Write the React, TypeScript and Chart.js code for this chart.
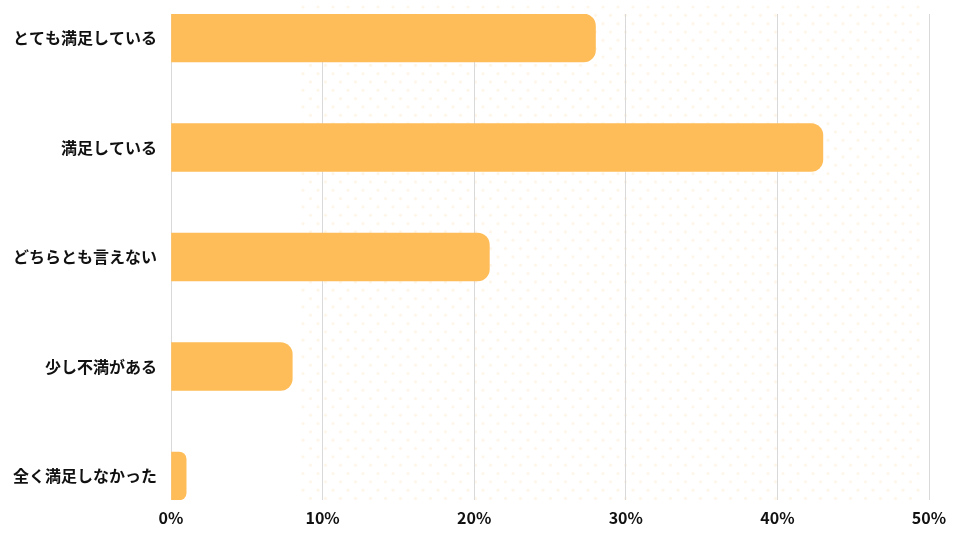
import React, { useEffect, useRef } from "react";
import { Chart, registerables } from "chart.js";

Chart.register(...registerables);

const categories = ["とても満足している", "満足している", "どちらとも言えない", "少し不満がある", "全く満足しなかった"];
const values = [28, 43, 21, 8, 1];
const xTicks = [0, 10, 20, 30, 40, 50];

const FONT = "'Noto Sans CJK JP', 'Noto Sans', sans-serif";

const dotsPlugin = {
  id: "dotsBg",
  beforeDraw(chart: any) {
    const ctx = chart.ctx;
    ctx.save();
    ctx.fillStyle = "rgba(255, 189, 89, 0.13)";
    const x0 = 303, x1 = 922, y0 = 7, y1 = 505;
    const dx = 15, dy = 8.33;
    let row = 0;
    for (let y = y0; y <= y1; y += dy, row++) {
      const off = row % 2 === 0 ? 0 : dx / 2;
      for (let x = x0 + off; x <= x1; x += dx) {
        ctx.beginPath();
        ctx.arc(x, y, 1.6, 0, Math.PI * 2);
        ctx.fill();
      }
    }
    ctx.restore();
  },
};

export default function App() {
  const ref = useRef<HTMLCanvasElement | null>(null);
  useEffect(() => {
    if (!ref.current) return;
    const chart = new Chart(ref.current, {
      type: "bar",
      data: {
        datasets: [
          {
            data: values.map((v, i) => ({ x: v, y: i })),
            backgroundColor: "#FFBD59",
            borderRadius: 12,
            borderSkipped: "start",
            barThickness: 48,
          },
        ],
      },
      plugins: [dotsPlugin],
      options: {
        indexAxis: "y",
        responsive: false,
        animation: false,
        layout: { padding: { top: 14, right: 31, left: 0, bottom: 0 } },
        plugins: { legend: { display: false }, tooltip: { enabled: false } },
        scales: {
          x: {
            type: "linear",
            min: 0,
            max: 50,
            afterBuildTicks: (s: any) => {
              s.ticks = xTicks.map((v) => ({ value: v }));
            },
            afterFit: (s: any) => {
              s.height = 40;
              s.paddingLeft = 0;
              s.paddingRight = 0;
            },
            border: { display: false },
            grid: { color: "#d9d9d9", lineWidth: 1, drawTicks: false },
            ticks: {
              padding: 8,
              color: "#111",
              font: { family: FONT, size: 16, weight: "bold" },
              callback: (v: any) => v + "%",
            },
          },
          y: {
            type: "linear",
            reverse: true,
            offset: false,
            min: -0.2192,
            max: 4.2192,
            afterBuildTicks: (s: any) => {
              s.ticks = categories.map((_, i) => ({ value: i }));
            },
            afterFit: (s: any) => {
              s.width = 171;
              s.paddingTop = 0;
              s.paddingBottom = 0;
            },
            border: { display: false },
            grid: { display: false, drawTicks: false, offset: false },
            ticks: {
              padding: 14,
              color: "#111",
              font: { family: FONT, size: 16, weight: "bold" },
              callback: (v: any) => categories[v] ?? "",
            },
          },
        },
      } as any,
    });
    return () => chart.destroy();
  }, []);
  return (
    <div style={{ position: "fixed", left: 0, top: 0, width: 960, height: 540, background: "#fff" }}>
      <canvas ref={ref} width={960} height={540} style={{ display: "block" }} />
    </div>
  );
}
